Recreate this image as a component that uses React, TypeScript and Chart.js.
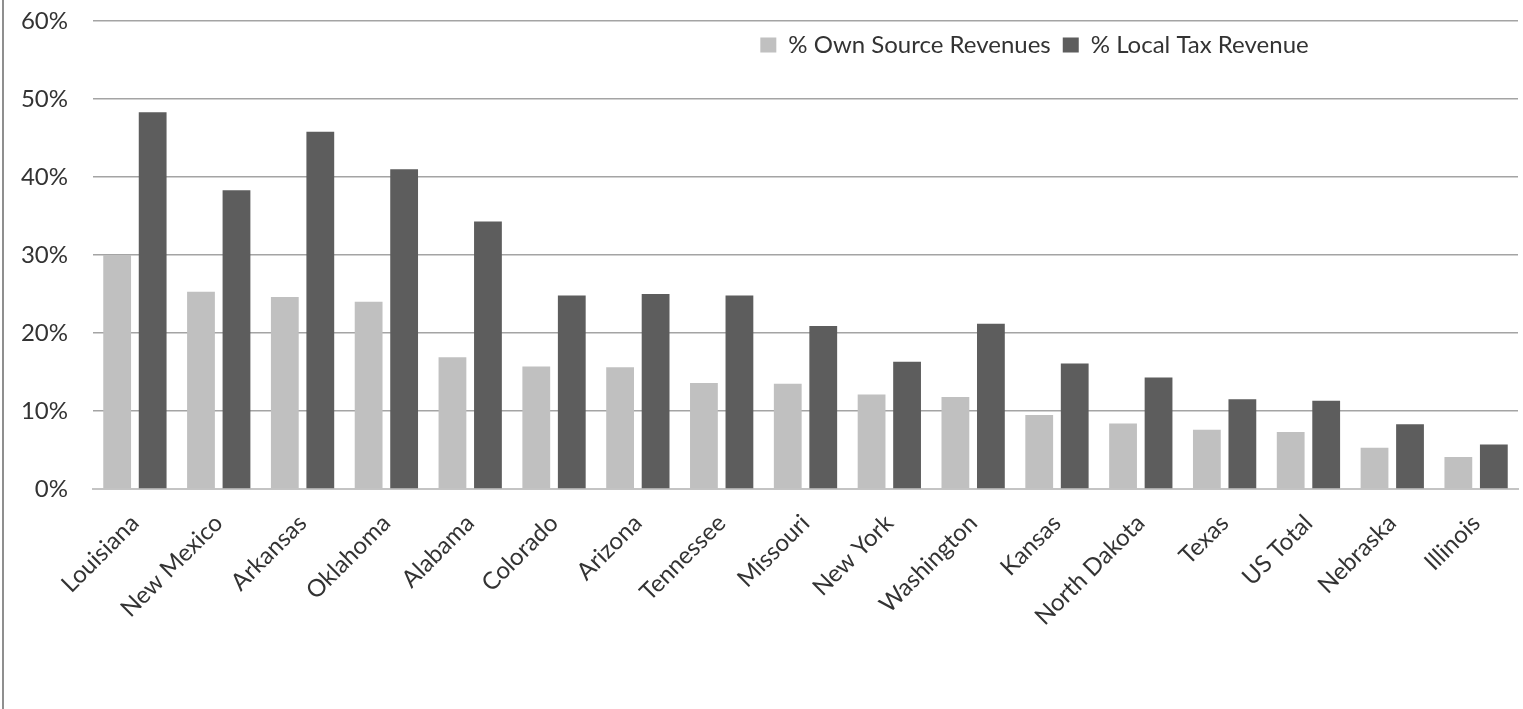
import React, { useEffect, useRef } from "react";
import { Chart, registerables } from "chart.js";

Chart.register(...registerables);

const categories = [
  "Louisiana",
  "New Mexico",
  "Arkansas",
  "Oklahoma",
  "Alabama",
  "Colorado",
  "Arizona",
  "Tennessee",
  "Missouri",
  "New York",
  "Washington",
  "Kansas",
  "North Dakota",
  "Texas",
  "US Total",
  "Nebraska",
  "Illinois",
];

const ownSourceRevenues = [30.0, 25.3, 24.6, 24.0, 16.9, 15.7, 15.6, 13.6, 13.5, 12.1, 11.8, 9.5, 8.4, 7.6, 7.3, 5.3, 4.1];
const localTaxRevenue = [48.3, 38.3, 45.8, 41.0, 34.3, 24.8, 25.0, 24.8, 20.9, 16.3, 21.2, 16.1, 14.3, 11.5, 11.3, 8.3, 5.7];

const seriesNames = ["% Own Source Revenues", "% Local Tax Revenue"];
const yMin = 0;
const yMax = 60;
const yStep = 10;

const FONT = "Lato, 'Open Sans', 'Noto Sans', sans-serif";
const TEXT = "#333333";

export default function App() {
  const ref = useRef<HTMLCanvasElement | null>(null);

  useEffect(() => {
    document.body.style.margin = "0";
    const legendMover = {
      id: "legendMover",
      beforeLayout(chart: any) {
        const lg = chart.legend;
        if (lg) lg.isHorizontal = () => true;
      },
      afterLayout(chart: any) {
        const lg = chart.legend;
        const ca = chart.chartArea;
        if (!lg || !ca) return;
        const cx = ca.left + ca.width * 0.6607;
        lg.left = cx - 420;
        lg.right = cx + 420;
        lg.width = 840;
        lg.top = ca.top;
      },
    };
    const chart = new Chart(ref.current as HTMLCanvasElement, {
      type: "bar",
      data: {
        labels: categories,
        datasets: [
          {
            label: seriesNames[0],
            data: ownSourceRevenues,
            backgroundColor: "#c0c0c0",
            categoryPercentage: 0.847,
            barPercentage: 0.783,
          },
          {
            label: seriesNames[1],
            data: localTaxRevenue,
            backgroundColor: "#5d5d5d",
            categoryPercentage: 0.847,
            barPercentage: 0.783,
          },
        ],
      },
      options: {
        animation: false,
        responsive: true,
        maintainAspectRatio: false,
        layout: { padding: { left: 0, right: 5, top: 21, bottom: 0 } },
        plugins: {
          legend: {
            position: "chartArea" as any,
            align: "center",
            labels: {
              boxWidth: 16,
              boxHeight: 15,
              padding: 12,
              color: TEXT,
              font: { family: FONT, size: 24 },
            },
          },
          tooltip: { enabled: false },
        },
        scales: {
          x: {
            grid: { display: false, drawTicks: false },
            border: { color: "#c4c4c4", width: 2 },
            ticks: {
              minRotation: 45,
              maxRotation: 45,
              autoSkip: false,
              padding: 20,
              color: TEXT,
              font: { family: FONT, size: 24 },
            },
            afterFit: (s: any) => {
              s.height = 220;
            },
          },
          y: {
            min: yMin,
            max: yMax,
            ticks: {
              stepSize: yStep,
              padding: 0,
              color: TEXT,
              font: { family: FONT, size: 24 },
              callback: (v: any) => v + "%",
            },
            grid: {
              color: "#a4a4a4",
              lineWidth: 1.5,
              drawTicks: true,
              tickLength: 25,
              tickColor: "rgba(0,0,0,0)",
            },
            border: { display: false },
            afterFit: (s: any) => {
              s.width = 93;
            },
          },
        },
      },
      plugins: [legendMover],
    });
    return () => chart.destroy();
  }, []);

  return (
    <div style={{ position: "fixed", left: 0, top: 0, width: 1523, height: 709, background: "#ffffff" }}>
      <div style={{ position: "absolute", left: 2, top: 0, width: 2, height: 709, background: "#8f8f8f" }} />
      <canvas ref={ref} />
    </div>
  );
}
